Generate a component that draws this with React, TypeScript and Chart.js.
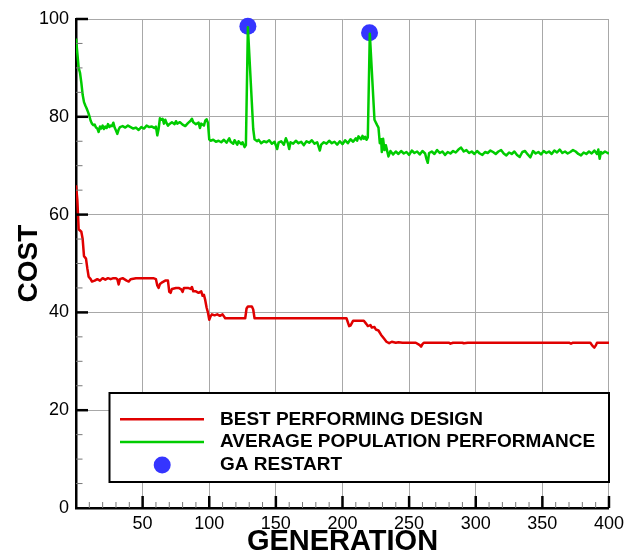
import React, { useEffect, useRef } from "react";
import { Chart, registerables } from "chart.js";

Chart.register(...registerables);

// ---------- DATA ----------
const seriesLabels = [
  "BEST PERFORMING DESIGN",
  "AVERAGE POPULATION PERFORMANCE",
  "GA RESTART",
];

const bestGen = [
  0, 1, 2, 4, 5, 6, 7.5, 8.5, 9.5, 11, 12, 14, 16, 18, 20, 22, 24, 26, 28, 30, 31, 32, 33, 35, 38, 39.6, 41, 45,
  50, 55, 58, 60, 61, 62, 63, 65, 67, 69, 70, 71, 72, 75, 77, 79, 80, 81, 84, 86, 87, 88, 90, 92, 94, 95, 96,
  97, 98, 99, 100, 101, 102, 104, 106, 108, 110, 112, 115, 120, 127, 128, 129, 132, 133, 134, 150, 180, 200,
  203, 205, 206, 208, 212, 216, 218, 219, 221, 222, 224, 225, 227, 229, 231, 233, 235, 237, 240, 242, 245,
  255, 258, 259, 260, 261, 280, 281, 283, 290, 291, 294, 370, 371.5, 373, 386, 387.5, 389, 390, 391, 400,
];
const bestCost = [
  66, 63, 57, 56.5, 55, 51.5, 51, 49, 47.3, 46.8, 46.3, 46.5, 46.8, 46.5, 47, 46.7, 47, 46.8, 47, 47, 46.8,
  45.7, 46.8, 47, 46.5, 46.3, 46.8, 47, 47, 47, 47, 46.8, 45.5, 45, 45.8, 46.2, 46.5, 46.5, 44.2, 44, 44.8, 45,
  45, 44.7, 44.2, 45, 45, 44.8, 45.2, 44.3, 44.3, 44, 44.3, 43.4, 43.6, 42.5, 41, 40, 38.5, 39.2, 39.6, 39.4,
  39.6, 39.3, 39.6, 38.8, 38.8, 38.8, 38.8, 40.8, 41.2, 41.2, 40.6, 38.8, 38.8, 38.8, 38.8, 38.8, 37.2, 37.3,
  38.3, 38.3, 38.3, 37.6, 37.2, 37.4, 36.9, 37, 36.5, 36.3, 35.4, 34.7, 34, 33.7, 34, 33.8, 33.9, 33.8, 33.8,
  33.3, 33, 33.5, 33.8, 33.8, 33.6, 33.8, 33.8, 33.7, 33.8, 33.8, 33.6, 33.8, 33.8, 33.2, 32.8, 33.2, 33.8,
  33.8,
];

const avgGen = [
  0, 1, 2, 3, 4, 5, 6, 7, 8, 9, 10, 11, 12, 13, 14, 15, 16, 17, 18, 19, 20, 21, 22, 23, 24, 25, 26, 27, 28, 29,
  30, 31, 32, 33, 35, 37, 39, 41, 43, 45, 47, 49, 51, 53, 55, 57, 59, 60, 61, 62, 63, 64, 65, 66, 67, 68, 69,
  70, 72, 74, 75, 76, 78, 80, 82, 84, 86, 87, 88, 90, 92, 93, 94, 96, 97, 98, 99, 100, 101, 103, 105, 107,
  109, 111, 113, 115, 116, 118, 119, 121, 122, 124, 125, 126.5, 127.5, 129, 133, 134, 136, 137, 139, 141,
  143, 145, 147, 149, 151, 152, 154, 156, 157.5, 159, 160, 161, 163, 165, 167, 169, 171, 173, 175, 177, 179,
  181, 183, 184, 186, 188, 190, 192, 194, 196, 198, 200, 202, 204, 206, 208, 210, 211, 212, 214, 215, 216,
  217, 218, 219, 220.5, 224, 226, 227, 228, 229, 229.5, 230.5, 231.5, 232.5, 234.5, 236, 238, 240, 242, 244,
  246, 248, 250, 252, 254, 256, 258, 260, 262, 263, 264, 265, 267, 269, 271, 273, 275, 277, 279, 281, 283,
  285, 287, 289, 291, 293, 295, 297, 299, 301, 303, 305, 307, 309, 311, 313, 315, 317, 319, 321, 323, 325,
  327, 329, 331, 333, 335, 337, 339, 341, 343, 345, 347, 349, 351, 353, 355, 357, 359, 361, 363, 365, 367,
  369, 371, 373, 375, 377, 379, 381, 383, 385, 387, 389, 391, 392, 393, 394, 395, 397, 399, 400,
];
const avgCost = [
  96, 93, 90, 89, 87, 84.5, 83, 82.3, 81.7, 81, 80.2, 79.2, 78.6, 78.3, 78.4, 77.8, 77.6, 76.9, 78, 77.6, 78.2,
  77.5, 78, 77.7, 78.5, 77.9, 78.2, 78.1, 78.8, 77.8, 77.2, 76.5, 77.4, 77.9, 78.1, 77.8, 78.2, 77.9, 77.6,
  77.8, 77.3, 77.9, 77.6, 78.2, 77.9, 78, 77.7, 78, 76.2, 77.5, 79.7, 79.4, 79.6, 78.6, 79.4, 78.7, 78.2, 78.5,
  78.9, 78.5, 79.1, 78.6, 78.9, 78.4, 78.1, 78.7, 79.2, 79.6, 78.9, 78.5, 78.8, 77.7, 78.6, 78.2, 79.2, 79.5,
  78.8, 75.4, 75.1, 75.3, 74.9, 75.1, 74.8, 75.3, 74.7, 75.6, 74.9, 74.5, 75.2, 74.3, 75, 74.4, 74.8, 73.8,
  74.2, 98.3, 77.5, 75.4, 75, 75.3, 74.6, 75, 74.8, 75.2, 74.5, 74.9, 73.4, 74.7, 75, 74.3, 75.6, 74.6, 73.4,
  74.8, 74.5, 75.1, 74.6, 74.9, 74.2, 75, 74.7, 75.2, 74.5, 74.8, 73.1, 74.3, 74.8, 74.5, 75.1, 74.6, 74.9,
  74.3, 75, 74.4, 75.2, 74.6, 75.4, 74.9, 75.6, 75.1, 76, 75.4, 76.1, 75.5, 75.9, 75.3, 75.8, 97, 79.4, 78.3,
  77.8, 74.6, 75.4, 72.8, 75.5, 73.2, 74.2, 71.9, 73, 72.3, 72.9, 72.4, 73, 72.5, 72.8, 72.2, 73.1, 72.6, 72.9,
  72.3, 73, 72.5, 71.4, 70.6, 72.6, 72.9, 72.4, 73.2, 72.6, 72.9, 72.2, 72.8, 72.5, 73, 72.7, 73.3, 73.7, 72.9,
  73.2, 72.6, 72.9, 72.4, 73, 72.5, 72.2, 72.8, 72.6, 73.1, 72.8, 72.4, 72.9, 73.2, 72.5, 72.1, 72.7, 72.4,
  72.9, 72.2, 71.8, 72.8, 73, 72.3, 71.7, 73, 72.5, 72.8, 72.3, 73, 72.6, 72.9, 72.4, 73.1, 72.7, 73.3, 72.6,
  72.9, 72.5, 72.8, 73.2, 72.9, 72.4, 72.1, 72.7, 72.4, 72.9, 72.5, 73.1, 72.4, 73.3, 71.4, 72.8, 72.5, 72.9,
  72.6, 72.5,
];

const restartGen = [129, 220.3];
const restartCost = [98.5, 97.2];

const xRange = [0, 400];
const yRange = [0, 100];
const xMinorStep = 10;
const xMajorStep = 50;
const yMinorStep = 5;
const yMajorStep = 20;

// ---------- STYLE ----------
const FONT = "'Liberation Sans', Arial, Helvetica, sans-serif";
const RED = "#e00000";
const GREEN = "#00cc00";
const BLUE = "#3535ff";
const GRID = "#a8a8a8";

const toPoints = (xs: number[], ys: number[]) => xs.map((x, i) => ({ x, y: ys[i] }));

const insideTicksPlugin = {
  id: "insideTicks",
  afterDatasetsDraw(chart: any) {
    const { ctx, chartArea, scales } = chart;
    const xs = scales.x;
    const ys = scales.y;
    ctx.save();
    ys.ticks.forEach((t: any) => {
      const py = ys.getPixelForValue(t.value);
      const major = t.value % yMajorStep === 0;
      if (t.value === yRange[0]) return;
      ctx.beginPath();
      ctx.lineWidth = major ? 2.5 : 1;
      ctx.strokeStyle = major ? "#000" : "#777";
      ctx.moveTo(chartArea.left, py);
      ctx.lineTo(chartArea.left + (major ? 12 : 6.5), py);
      ctx.stroke();
    });
    xs.ticks.forEach((t: any) => {
      const px = xs.getPixelForValue(t.value);
      const major = t.value % xMajorStep === 0;
      if (t.value === xRange[0]) return;
      ctx.beginPath();
      ctx.lineWidth = major ? 2.5 : 1;
      ctx.strokeStyle = major ? "#000" : "#777";
      ctx.moveTo(px, chartArea.bottom);
      ctx.lineTo(px, chartArea.bottom - (major ? 12 : 6));
      ctx.stroke();
    });
    ctx.restore();
  },
};

const boxLegendPlugin = {
  id: "boxLegend",
  afterDraw(chart: any) {
    const { ctx, chartArea } = chart;
    const ds = chart.data.datasets;
    const bx = chartArea.left + 33.5;
    const by = 393;
    const bw = 499.5;
    const bh = 89;
    ctx.save();
    ctx.fillStyle = "#fff";
    ctx.fillRect(bx, by, bw, bh);
    ctx.lineWidth = 2;
    ctx.strokeStyle = "#000";
    ctx.strokeRect(bx, by, bw, bh);
    ds.forEach((d: any, i: number) => {
      const y = by + 26.3 + i * 22.8;
      if (d.showLine) {
        ctx.beginPath();
        ctx.lineWidth = 2.5;
        ctx.strokeStyle = d.borderColor;
        ctx.moveTo(bx + 10.5, y);
        ctx.lineTo(bx + 94.5, y);
        ctx.stroke();
      } else {
        ctx.beginPath();
        ctx.fillStyle = d.backgroundColor;
        ctx.arc(bx + 52.7, y, 8.5, 0, Math.PI * 2);
        ctx.fill();
      }
      ctx.fillStyle = "#000";
      ctx.font = `bold 19px ${FONT}`;
      ctx.textBaseline = "middle";
      ctx.textAlign = "left";
      ctx.fillText(d.label, bx + 110.5, y);
    });
    ctx.restore();
  },
};

export default function App() {
  const ref = useRef<HTMLCanvasElement>(null);

  useEffect(() => {
    if (!ref.current) return;
    const chart = new Chart(ref.current, {
      type: "scatter",
      data: {
        datasets: [
          {
            label: seriesLabels[0],
            data: toPoints(bestGen, bestCost),
            showLine: true,
            borderColor: RED,
            backgroundColor: RED,
            borderWidth: 2.5,
            pointRadius: 0,
            tension: 0,
            borderJoinStyle: "round",
          },
          {
            label: seriesLabels[1],
            data: toPoints(avgGen, avgCost),
            showLine: true,
            borderColor: GREEN,
            backgroundColor: GREEN,
            borderWidth: 2.5,
            pointRadius: 0,
            tension: 0,
            borderJoinStyle: "round",
          },
          {
            label: seriesLabels[2],
            data: toPoints(restartGen, restartCost),
            showLine: false,
            backgroundColor: BLUE,
            borderColor: BLUE,
            borderWidth: 0,
            pointRadius: 8.5,
            clip: false,
          },
        ],
      } as any,
      options: {
        responsive: false,
        animation: false,
        devicePixelRatio: 1,
        layout: { padding: { top: 19, right: 16, bottom: 0, left: 0 } },
        plugins: {
          legend: { display: false },
          tooltip: { enabled: false },
        },
        scales: {
          x: {
            type: "linear",
            min: xRange[0],
            max: xRange[1],
            afterFit: (s: any) => {
              s.height = 48;
            },
            border: { color: "#000", width: 2.5 },
            grid: {
              drawTicks: false,
              lineWidth: 1,
              color: (c: any) =>
                c.tick && c.tick.value % xMajorStep === 0 ? GRID : "rgba(0,0,0,0)",
            },
            ticks: {
              stepSize: xMinorStep,
              autoSkip: false,
              maxRotation: 0,
              padding: 5,
              color: "#000",
              font: { family: FONT, size: 18 },
              callback: (v: any) => (v % xMajorStep === 0 && v !== 0 ? String(v) : ""),
            },
            title: {
              display: true,
              text: "GENERATION",
              color: "#000",
              font: { family: FONT, size: 29, weight: "bold", lineHeight: 1 },
              padding: { top: 0, bottom: 0 },
            },
          },
          y: {
            type: "linear",
            min: yRange[0],
            max: yRange[1],
            afterFit: (s: any) => {
              s.width = 76;
            },
            border: { color: "#000", width: 2.5 },
            grid: {
              drawTicks: false,
              lineWidth: 1,
              color: (c: any) =>
                c.tick && c.tick.value % yMajorStep === 0 ? GRID : "rgba(0,0,0,0)",
            },
            ticks: {
              stepSize: yMinorStep,
              autoSkip: false,
              padding: 7,
              color: "#000",
              font: { family: FONT, size: 18 },
              callback: (v: any) => (v % yMajorStep === 0 ? String(v) : ""),
            },
            title: {
              display: true,
              text: "COST",
              color: "#000",
              font: { family: FONT, size: 28, weight: "bold", lineHeight: 1 },
              padding: { top: 15, bottom: 0 },
            },
          },
        },
      } as any,
      plugins: [insideTicksPlugin, boxLegendPlugin],
    });
    return () => chart.destroy();
  }, []);

  return (
    <div style={{ position: "fixed", left: 0, top: 0, width: 629, height: 556, background: "#fff" }}>
      <canvas ref={ref} width={629} height={556} style={{ display: "block" }} />
    </div>
  );
}
